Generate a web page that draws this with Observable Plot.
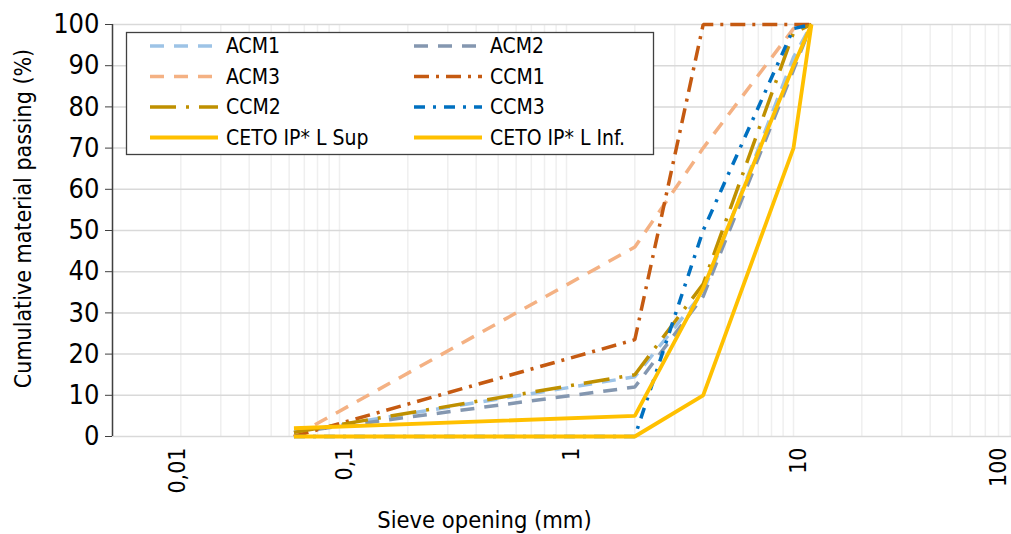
<!DOCTYPE html>
<html><head><meta charset="utf-8">
<script src="https://cdn.jsdelivr.net/npm/d3@7"></script>
<script src="https://cdn.jsdelivr.net/npm/@observablehq/plot@0.6"></script>
<style>
html,body{margin:0;padding:0;background:#fff;overflow:hidden;}
#chart{position:relative;width:1011px;height:534px;overflow:hidden;}
#chart svg{max-width:none !important;}
svg text{font-family:"DejaVu Sans Condensed","DejaVu Sans",sans-serif;}
</style></head><body><div id="chart"></div>
<script>
// ---- data ----
const sieves = [0.063, 2, 4, 10, 12];
const seriesNames = ["ACM1", "ACM2", "ACM3", "CCM1", "CCM2", "CCM3", "CETO IP* L Sup", "CETO IP* L Inf."];
const ACM1 = [1, 14.5, 35, 92, 100];
const ACM2 = [1, 12, 34, 89, 100];
const ACM3 = [0, 46, 70, 99, 100];
const CCM1 = [0, 23.5, 100, 100, 100];
const CCM2 = [1, 15, 37, 98, 100];
const CCM3 = [0, 0, 50, 99, 100];
const CETO_Sup = [2, 5, 36, 90, 100];
const CETO_Inf = [0, 0, 10, 70, 100];
const seriesValues = [ACM1, ACM2, ACM3, CCM1, CCM2, CCM3, CETO_Sup, CETO_Inf];
const xTicks = [0.01, 0.1, 1, 10, 100];
const xTickLabels = ["0,01", "0,1", "1", "10", "100"];
const yTicks = [0, 10, 20, 30, 40, 50, 60, 70, 80, 90, 100];
const xTitle = "Sieve opening (mm)";
const yTitle = "Cumulative material passing (%)";

// ---- styles ----
const colors = ["#9DC3E6", "#8497B0", "#F4B183", "#C55A11", "#BF9000", "#0070C0", "#FFC000", "#FFC000"];
const dashes = ["14,10", "14,10", "14,10", "15,7,3,7", "26,10,3,10", "11,8,3,8", null, null];
const xLabelShift = [65, 5, 5, 5, -22];

const minorX = [];
for (const dec of [0.01, 0.1, 1, 10]) for (let k = 1; k <= 9; k++) minorX.push(dec * k);
minorX.push(100);

const rows = [];
seriesNames.forEach((name, i) => sieves.forEach((s, j) => rows.push({name, i, x: s, y: seriesValues[i][j]})));

const lineMarks = seriesNames.map((name, i) => Plot.line(rows.filter(r => r.i === i), {
  x: "x", y: "y", stroke: colors[i], strokeWidth: i >= 6 ? 3.8 : 3.5,
  strokeDasharray: dashes[i] || undefined, strokeLinejoin: "miter", strokeLinecap: "butt"
}));

const xLabelMarks = xTicks.map((t, i) => Plot.text([t], {
  x: d => d, y: () => 0, text: () => xTickLabels[i], rotate: -90, textAnchor: "end", lineAnchor: "middle",
  dy: 11, dx: xLabelShift[i], fontSize: 23, fill: "#000"
}));

const chart = Plot.plot({
  width: 1020, height: 534,
  marginLeft: 112, marginRight: 0, marginTop: 24, marginBottom: 98,
  style: {fontSize: "22px", background: "#fff", maxWidth: "none"},
  x: {type: "log", domain: [0.01, 100], axis: null},
  y: {domain: [0, 100], axis: null},
  marks: [
    Plot.ruleX(minorX, {stroke: "#efefef", strokeWidth: 1.5}),
    Plot.ruleY(yTicks, {stroke: "#d9d9d9", strokeWidth: 1.5}),
    Plot.ruleX([0.01], {y1: 0, y2: 100, stroke: "#404040", strokeWidth: 1.5}),
    Plot.axisY({ticks: yTicks, tickSize: 7, tickPadding: 6, stroke: "#404040", fill: "#000", fontSize: 27, label: null, tickFormat: d => String(d)}),
    ...lineMarks,
    ...xLabelMarks,
    Plot.text([xTitle], {frameAnchor: "bottom", text: d => d, lineAnchor: "middle", textAnchor: "middle", dx: -82, dy: 84, fontSize: 23.5, fill: "#000"}),
    Plot.text([yTitle], {frameAnchor: "left", text: d => d, rotate: -90, textAnchor: "middle", lineAnchor: "middle", dx: -89, dy: -12, fontSize: 23, fill: "#000"})
  ]
});
document.getElementById("chart").appendChild(chart);

// ---- legend (inside plot area) ----
const svg = d3.select(chart);
const lg = svg.append("g");
lg.append("rect").attr("x", 126.5).attr("y", 32.5).attr("width", 527).attr("height", 122)
  .attr("fill", "#fff").attr("stroke", "#404040").attr("stroke-width", 1.3);
seriesNames.forEach((name, i) => {
  const col = i % 2, row = Math.floor(i / 2);
  const x0 = col === 0 ? 150 : 414;
  const yy = 46 + row * 30.5;
  lg.append("line").attr("x1", x0).attr("x2", x0 + 68).attr("y1", yy).attr("y2", yy)
    .attr("stroke", colors[i]).attr("stroke-width", i >= 6 ? 3.8 : 3.5)
    .attr("stroke-dasharray", dashes[i] || null);
  lg.append("text").attr("x", x0 + 76).attr("y", yy).attr("dy", "0.35em")
    .attr("text-anchor", "start").attr("font-size", 21).attr("fill", "#000").text(name);
});
</script></body></html>
